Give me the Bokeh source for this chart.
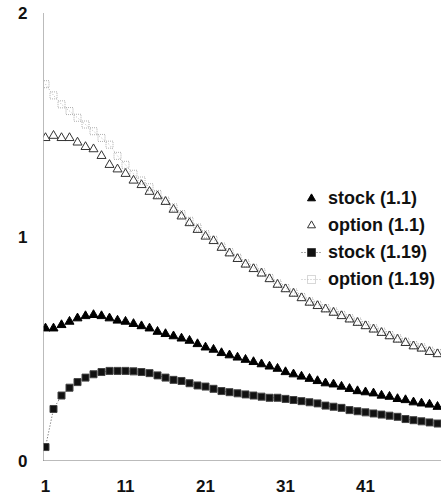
from bokeh.plotting import figure
from bokeh.models import Range1d, FixedTicker, Legend, LegendItem
from bokeh.embed import file_html
from bokeh.resources import INLINE

periods = list(range(1, 51))

stock_11 = [0.59, 0.59, 0.605, 0.62, 0.635, 0.645, 0.65, 0.645, 0.635, 0.625,
            0.62, 0.61, 0.60, 0.59, 0.575, 0.565, 0.555, 0.545, 0.535, 0.52,
            0.505, 0.495, 0.48, 0.47, 0.46, 0.45, 0.44, 0.43, 0.42, 0.41,
            0.395, 0.385, 0.375, 0.365, 0.355, 0.345, 0.34, 0.33, 0.32, 0.31,
            0.305, 0.30, 0.29, 0.285, 0.275, 0.27, 0.26, 0.255, 0.25, 0.24]

option_11 = [1.44, 1.45, 1.44, 1.44, 1.42, 1.40, 1.39, 1.36, 1.32, 1.30,
             1.28, 1.25, 1.23, 1.20, 1.18, 1.155, 1.12, 1.09, 1.06, 1.03,
             1.00, 0.98, 0.95, 0.925, 0.90, 0.875, 0.855, 0.835, 0.81, 0.785,
             0.765, 0.745, 0.725, 0.705, 0.69, 0.675, 0.66, 0.645, 0.63, 0.615,
             0.60, 0.585, 0.57, 0.555, 0.54, 0.525, 0.51, 0.50, 0.485, 0.475]

stock_119 = [0.06, 0.23, 0.29, 0.325, 0.35, 0.37, 0.385, 0.395, 0.40, 0.40,
             0.40, 0.398, 0.395, 0.39, 0.38, 0.37, 0.36, 0.355, 0.345, 0.335,
             0.33, 0.32, 0.31, 0.305, 0.30, 0.295, 0.29, 0.285, 0.28, 0.28,
             0.275, 0.27, 0.265, 0.26, 0.255, 0.245, 0.24, 0.235, 0.225, 0.22,
             0.215, 0.21, 0.205, 0.20, 0.195, 0.185, 0.18, 0.175, 0.17, 0.165]

option_119 = [1.68, 1.63, 1.59, 1.56, 1.53, 1.50, 1.47, 1.44, 1.41, 1.36,
              1.32, 1.28, 1.25, 1.22, 1.19, 1.16, 1.13, 1.10, 1.07, 1.04,
              1.01, 0.985, 0.955, 0.93, 0.905, 0.88, 0.86, 0.84, 0.815, 0.79,
              0.77, 0.75, 0.73, 0.71, 0.695, 0.68, 0.665, 0.65, 0.635, 0.62,
              0.605, 0.59, 0.575, 0.56, 0.545, 0.53, 0.515, 0.505, 0.49, 0.48]

x_ticks = [1, 11, 21, 31, 41]
y_ticks = [0, 1, 2]

FONT = "Liberation Sans"

p = figure(width=441, height=500, output_backend="svg", toolbar_location=None,
           x_range=Range1d(0.75, 50.5), y_range=Range1d(0, 2),
           min_border_left=43, min_border_right=0, min_border_top=12,
           min_border_bottom=40)
p.outline_line_color = None
p.grid.grid_line_color = None
p.background_fill_color = "white"
p.border_fill_color = "white"

for ax in (p.xaxis[0], p.yaxis[0]):
    ax.axis_line_color = "#777777"
    ax.axis_line_dash = "1 1"
    ax.axis_line_width = 1
    ax.major_tick_line_color = None
    ax.minor_tick_line_color = None
    ax.major_tick_out = 0
    ax.major_tick_in = 0
    ax.minor_tick_out = 0
    ax.major_label_text_font = FONT
    ax.major_label_text_font_style = "bold"
    ax.major_label_text_font_size = "17px"
    ax.major_label_text_color = "#111111"

p.xaxis[0].ticker = FixedTicker(ticks=x_ticks)
p.yaxis[0].ticker = FixedTicker(ticks=y_ticks)
p.xaxis[0].major_label_standoff = 19
p.yaxis[0].major_label_standoff = 16

# option (1.19): light grey squares with dotted line
l4 = p.line(periods, option_119, line_color="#bbbbbb", line_dash="1 2", line_width=1)
s4 = p.scatter(periods, option_119, marker="square", size=7, fill_color=None,
               line_color="#b0b0b0", line_width=1, line_dash="1 1")
# option (1.1): open triangles
s2 = p.scatter(periods, option_11, marker="triangle", size=9, fill_color=None,
               line_color="#333333", line_width=1)
# stock (1.1): filled triangles
s1 = p.scatter(periods, stock_11, marker="triangle", size=9, fill_color="black",
               line_color="black")
# stock (1.19): filled squares with dotted line
l3 = p.line(periods, stock_119, line_color="#555555", line_dash="1 2", line_width=1)
s3 = p.scatter(periods, stock_119, marker="square", size=7, fill_color="#111111",
               line_color="#444444")

legend = Legend(items=[
    LegendItem(label="stock (1.1)", renderers=[s1]),
    LegendItem(label="option (1.1)", renderers=[s2]),
    LegendItem(label="stock (1.19)", renderers=[l3, s3]),
    LegendItem(label="option (1.19)", renderers=[l4, s4]),
], location=(258, 169))
legend.border_line_color = None
legend.background_fill_alpha = 0
legend.padding = 0
legend.margin = 0
legend.spacing = 3
legend.label_height = 24
legend.glyph_height = 24
legend.glyph_width = 20
legend.label_standoff = 7
legend.label_text_font = FONT
legend.label_text_font_style = "bold"
legend.label_text_font_size = "18px"
legend.label_text_color = "#111111"
p.add_layout(legend, "center")

open("out.html", "w").write(file_html(p, INLINE))
